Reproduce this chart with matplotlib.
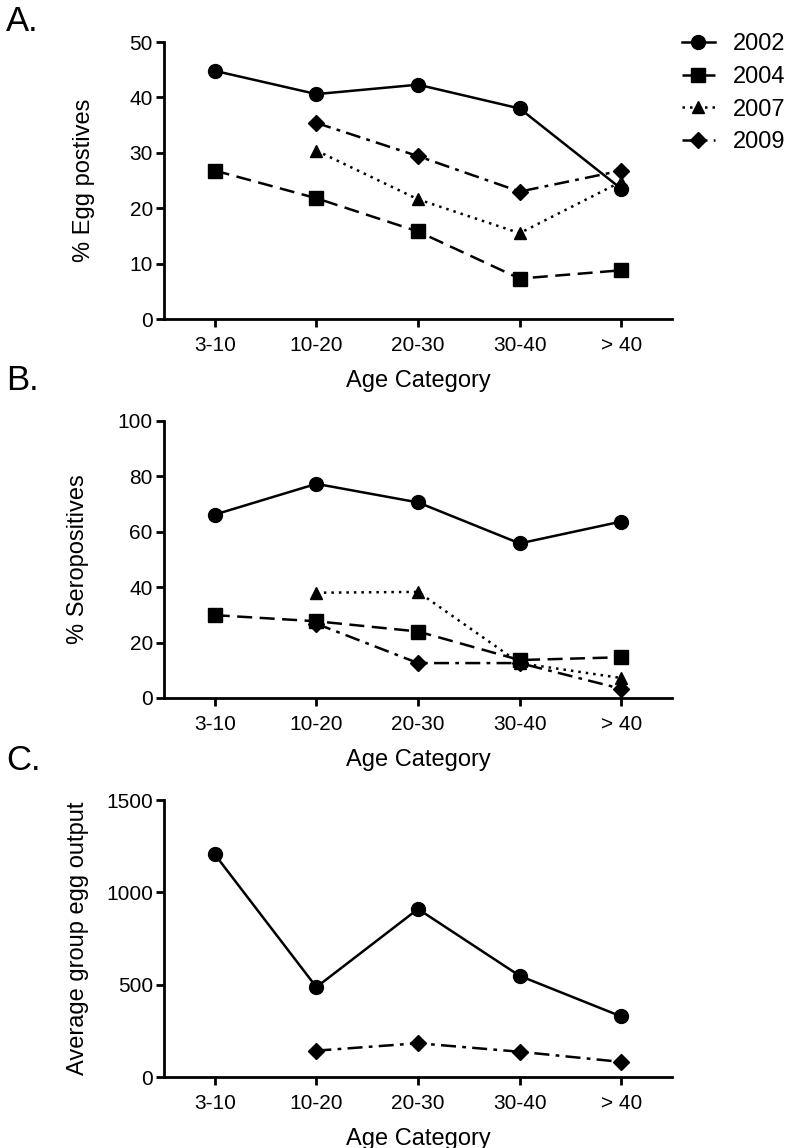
import numpy as np
import matplotlib
matplotlib.use("Agg")
import matplotlib.pyplot as plt

plt.rcParams['font.family'] = ['Liberation Sans', 'DejaVu Sans']

ages = ["3-10", "10-20", "20-30", "30-40", "> 40"]
years = ["2002", "2004", "2007", "2009"]

# panel A: % egg positives
egg_2002 = [44.8, 40.6, 42.3, 38.0, 23.5]
egg_2004 = [26.8, 21.8, 15.8, 7.3, 8.8]
egg_2007 = [np.nan, 30.4, 21.6, 15.5, 24.8]
egg_2009 = [np.nan, 35.4, 29.4, 23.0, 26.8]

# panel B: % seropositives
sero_2002 = [66.2, 77.3, 70.6, 55.8, 63.7]
sero_2004 = [29.9, 27.7, 24.0, 13.7, 14.7]
sero_2007 = [np.nan, 38.0, 38.3, 12.6, 7.2]
sero_2009 = [np.nan, 26.8, 12.6, 12.6, 3.3]

# panel C: average group egg output
out_2002 = [1206, 487, 910, 548, 328]
out_2009 = [np.nan, 143, 183, 137, 82]

styles = {
    "2002": dict(ls="-", marker="o", ms=10),
    "2004": dict(ls=(0, (6, 3)), marker="s", ms=10),
    "2007": dict(ls=(0, (1, 2)), marker="^", ms=9),
    "2009": dict(ls=(0, (6, 2.5, 1.5, 2.5)), marker="D", ms=8),
}

fig = plt.figure(figsize=(7.88, 11.48), dpi=100)
left, width, height = 0.208, 0.645, 0.2413
axA = fig.add_axes([left, 0.7221, width, height])
axB = fig.add_axes([left, 0.3920, width, height])
axC = fig.add_axes([left, 0.0618, width, height])

x = np.arange(len(ages))


def draw(ax, series, ylim, yticks, ylabel, ylab_x):
    handles = []
    for yr, vals in series:
        st = styles[yr]
        h, = ax.plot(x, vals, color="black", lw=1.8, ls=st["ls"], marker=st["marker"],
                     ms=st["ms"], mfc="black", mec="black", label=yr, clip_on=False)
        handles.append(h)
    ax.set_xlim(-0.5, 4.5)
    ax.set_ylim(*ylim)
    ax.set_yticks(yticks)
    ax.set_xticks(x)
    ax.set_xticklabels(ages)
    for s in ["top", "right"]:
        ax.spines[s].set_visible(False)
    for s in ["left", "bottom"]:
        ax.spines[s].set_linewidth(2)
    ax.tick_params(width=2, length=6, labelsize=15, direction="out")
    ax.tick_params(axis="x", pad=6)
    ax.tick_params(axis="y", pad=2)
    ax.set_ylabel(ylabel, fontsize=17)
    ax.yaxis.set_label_coords(ylab_x, 0.5)
    ax.set_xlabel("Age Category", fontsize=17, labelpad=11)
    return handles


hA = draw(axA, [("2002", egg_2002), ("2004", egg_2004), ("2007", egg_2007), ("2009", egg_2009)],
          (0, 50), [0, 10, 20, 30, 40, 50], "% Egg postives", -0.136)
draw(axB, [("2002", sero_2002), ("2004", sero_2004), ("2007", sero_2007), ("2009", sero_2009)],
     (0, 100), [0, 20, 40, 60, 80, 100], "% Seropositives", -0.148)
draw(axC, [("2002", out_2002), ("2009", out_2009)],
     (0, 1500), [0, 500, 1000, 1500], "Average group egg output", -0.148)

fig.text(0.008, 0.996, "A.", fontsize=25, va="top")
fig.text(0.008, 0.683, "B.", fontsize=25, va="top")
fig.text(0.008, 0.352, "C.", fontsize=25, va="top")

fig.legend(hA, years, loc="upper left", bbox_to_anchor=(0.865, 0.971), frameon=False,
           fontsize=17, handlelength=1.4, handletextpad=0.75, labelspacing=0.45,
           borderpad=0, borderaxespad=0)

fig.savefig("out.png", dpi=100)
